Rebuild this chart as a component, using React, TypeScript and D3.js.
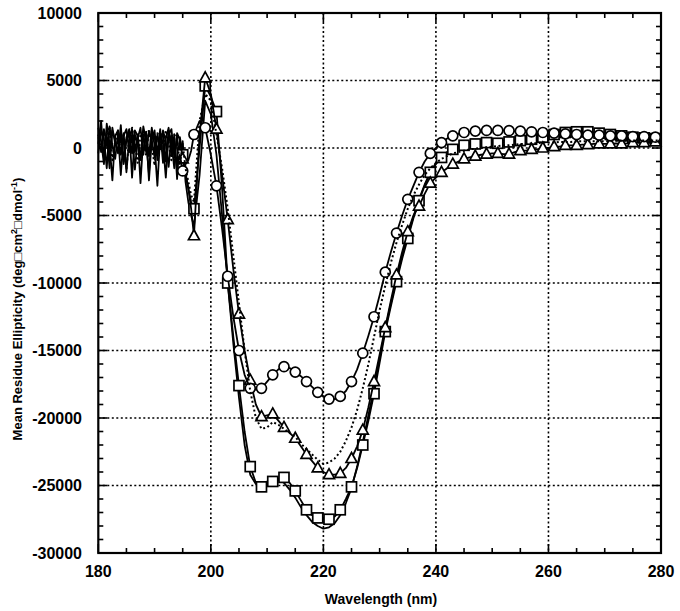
import React from "react";
import * as d3 from "d3";

// Wavelength grids (nm): noisy far-UV part at 0.5 nm, rest at 1 nm
const noiseWavelengths: number[] = d3.range(180, 197, 0.5);
const mainWavelengths: number[] = d3.range(197, 281);

// Noisy region values (180.0 .. 196.5 nm)
const circleNoise = [800, -300, 1400, 200, -600, 1500, 300, -200, 900, -1200, 600, 1100, -400, 1300, 900, -900, 1000, -300, 1200, 600, -700, 1000, -100, 1300, 500, -1400, 900, 200, -1200, -500, -1700, -1200, -900, -200];
const triangleNoise = [1500, 500, -1200, 1800, 300, -2400, 900, 1300, -500, 1100, -1800, 700, 1400, -300, 1000, -2600, 800, 1200, -600, 1500, 200, -2800, 900, 1100, -1000, 1300, 400, -1500, 1100, 600, -800, -2000, -3000, -4500];
const squareNoise = [300, 2000, -800, 1000, -1500, 1300, 600, -400, 1700, -1000, 800, 1400, -2200, 1000, 300, -700, 1600, 500, -1900, 1200, 800, -300, 1400, -1100, 700, 1500, -600, 1000, -2300, 800, -500, -1800, -3000, -4000];
const lowNoise = [-400, 1300, 700, -1500, 1600, 200, -800, 1100, -2000, 900, 1400, -300, 1000, -1600, 700, 1500, -500, 1200, -2400, 600, 1300, -900, 1100, 300, -2200, 1000, 1400, -700, 800, -1200, 500, -2500, -4000, -5000];
const dottedNoise = [1000, -200, 1200, 600, 1600, -900, 500, 1300, -400, 1100, -1600, 900, 1500, 300, -1100, 1000, 700, -600, 1400, 200, -1300, 1100, 800, -500, 1300, 400, -900, 1000, 600, -1200, 300, -1500, -2500, -3500];

// Main region values (197 .. 280 nm)
const circleMain = [
  1000, 2000, 1500, -500, -2800, -6000, -9500, -12500, -15000, -16800,
  -17800, -17900, -17800, -17300, -16800, -16400, -16200, -16300, -16600, -16900,
  -17300, -17700, -18100, -18400, -18600, -18600, -18400, -18000, -17300, -16400,
  -15200, -13900, -12500, -10900, -9200, -7700, -6300, -5000, -3800, -2800,
  -1800, -1000, -400, 0, 400, 700, 900, 1050, 1150, 1200,
  1250, 1280, 1300, 1300, 1300, 1300, 1280, 1250, 1250, 1200,
  1200, 1150, 1150, 1100, 1100, 1050, 1050, 1000, 1000, 1000,
  950, 950, 950, 900, 900, 900, 900, 850, 850, 900,
  850, 850, 800, 800,
];
const triangleMain = [
  -6500, 1000, 5200, 4000, 1400, -2000, -5300, -9000, -12300, -15000,
  -17200, -19000, -19900, -19800, -19700, -20200, -20700, -21100, -21500, -22100,
  -22700, -23200, -23700, -24000, -24200, -24200, -24100, -23700, -23000, -22100,
  -20900, -19200, -17300, -15300, -13300, -11300, -9400, -7700, -6200, -5000,
  -4300, -3400, -2600, -2200, -1800, -1500, -1200, -1000, -800, -700,
  -600, -500, -450, -400, -400, -450, -450, -300, -200, -200,
  -100, -100, 0, 0, 100, 100, 200, 200, 200, 250,
  250, 300, 300, 300, 300, 350, 300, 350, 400, 400,
  400, 450, 450, 500,
];
const squareMain = [
  -4500, 0, 4600, 3800, 2700, -3000, -10000, -14000, -17600, -21000,
  -23600, -24800, -25100, -24900, -24700, -24500, -24400, -24800, -25400, -26100,
  -26800, -27200, -27400, -27500, -27500, -27300, -26800, -26000, -25100, -23700,
  -22000, -20200, -18200, -15900, -13600, -11700, -9900, -8200, -6700, -5200,
  -3900, -2800, -1800, -1200, -700, -400, -100, 100, 200, 300,
  300, 350, 400, 400, 350, 400, 450, 500, 550, 600,
  650, 700, 800, 900, 1000, 1100, 1150, 1200, 1200, 1200,
  1200, 1150, 1100, 1050, 1000, 950, 900, 850, 800, 800,
  750, 750, 700, 700,
];
const lowMain = [
  -5800, -2000, 3500, 2500, -500, -5000, -10000, -14500, -18500, -22000,
  -24200, -24900, -24900, -24700, -24500, -24600, -24800, -25300, -25900, -26600,
  -27200, -27700, -28000, -28200, -28100, -27800, -27200, -26300, -25200, -23600,
  -21800, -19800, -17800, -15600, -13400, -11500, -9700, -8000, -6500, -5100,
  -3800, -2700, -1800, -1100, -600, -300, 0, 200, 300, 400,
  400, 450, 500, 500, 500, 550, 550, 600, 600, 650,
  650, 700, 700, 750, 750, 800, 800, 850, 900, 900,
  900, 900, 900, 850, 850, 850, 800, 800, 800, 750,
  750, 700, 700, 700,
];
const dottedMain = [
  -4000, 2000, 4000, 3500, 1000, -1500, -4500, -8000, -11500, -15000,
  -18000, -20000, -20800, -20700, -20300, -20500, -20800, -21100, -21400, -21900,
  -22300, -22700, -23100, -23400, -23300, -23000, -22500, -21700, -20700, -19400,
  -17800, -16000, -14000, -12000, -10200, -8500, -7000, -5700, -4500, -3500,
  -2700, -2000, -1500, -1100, -800, -600, -400, -300, -200, -100,
  -50, 0, 50, 100, 150, 200, 200, 250, 300, 300,
  350, 350, 400, 400, 400, 450, 450, 450, 500, 500,
  500, 500, 500, 500, 500, 550, 550, 550, 550, 550,
  550, 550, 550, 550,
];

const xTickValues = [180, 200, 220, 240, 260, 280];
const yTickValues = [10000, 5000, 0, -5000, -10000, -15000, -20000, -25000, -30000];

type Marker = "circle" | "square" | "triangle" | "none";
const seriesList: { noise: number[]; main: number[]; marker: Marker; dotted: boolean }[] = [
  { noise: lowNoise, main: lowMain, marker: "none", dotted: false },
  { noise: squareNoise, main: squareMain, marker: "square", dotted: false },
  { noise: triangleNoise, main: triangleMain, marker: "triangle", dotted: false },
  { noise: circleNoise, main: circleMain, marker: "circle", dotted: false },
  { noise: dottedNoise, main: dottedMain, marker: "none", dotted: true },
];

export default function App() {
  const W = 680, H = 611;
  const left = 98.3, right = 661, top = 13, bottom = 553;
  const x = d3.scaleLinear().domain([180, 280]).range([left, right]);
  const y = d3.scaleLinear().domain([-30000, 10000]).range([bottom, top]);

  const line = d3
    .line<[number, number]>()
    .x((d) => x(d[0]))
    .y((d) => y(d[1]));

  const xMinor = d3.range(180, 281, 5);
  const yMinor = d3.range(-30000, 10001, 1000);
  const font = "'Liberation Sans', Arial, Helvetica, sans-serif";
  const allX = noiseWavelengths.concat(mainWavelengths);

  const markerShape = (m: Marker, cx: number, cy: number, key: string) => {
    if (m === "circle")
      return <circle key={key} cx={cx} cy={cy} r={5} fill="#fff" stroke="#000" strokeWidth={1.7} />;
    if (m === "square")
      return <rect key={key} x={cx - 5} y={cy - 5} width={10} height={10} fill="#fff" stroke="#000" strokeWidth={1.7} />;
    if (m === "triangle")
      return (
        <path key={key} d={`M${cx},${cy - 6}L${cx + 5.5},${cy + 4}L${cx - 5.5},${cy + 4}Z`} fill="#fff" stroke="#000" strokeWidth={1.7} />
      );
    return null;
  };

  return (
    <svg width={W} height={H} style={{ position: "absolute", left: 0, top: 0, background: "#fff" }}>
      <rect x={0} y={0} width={W} height={H} fill="#fff" />
      {/* grid */}
      <g stroke="#000" strokeWidth={1.6} strokeDasharray="2,2.5">
        {xTickValues.slice(1, -1).map((t) => (
          <line key={"gx" + t} x1={x(t)} x2={x(t)} y1={top} y2={bottom} />
        ))}
        {yTickValues.slice(1, -1).map((t) => (
          <line key={"gy" + t} x1={left} x2={right} y1={y(t)} y2={y(t)} />
        ))}
      </g>
      {/* ticks */}
      <g stroke="#000" strokeWidth={1.6}>
        {xMinor.map((t) => {
          const len = t % 20 === 0 ? 9 : 5;
          return (
            <g key={"xt" + t}>
              <line x1={x(t)} x2={x(t)} y1={bottom} y2={bottom - len} />
              <line x1={x(t)} x2={x(t)} y1={top} y2={top + len} />
            </g>
          );
        })}
        {yMinor.map((t) => {
          const len = t % 5000 === 0 ? 9 : 5;
          return (
            <g key={"yt" + t}>
              <line x1={left} x2={left + len} y1={y(t)} y2={y(t)} />
              <line x1={right} x2={right - len} y1={y(t)} y2={y(t)} />
            </g>
          );
        })}
      </g>
      {/* data */}
      <g>
        {seriesList.map((s, i) => {
          const vals = s.noise.concat(s.main);
          const pts: [number, number][] = allX.map((w, j) => [w, vals[j]]);
          return (
            <g key={"s" + i}>
              <path
                d={line(pts) || ""}
                fill="none"
                stroke="#000"
                strokeWidth={s.dotted ? 2 : 1.8}
                strokeDasharray={s.dotted ? "2,2.5" : undefined}
                strokeLinejoin="round"
              />
              {s.marker !== "none" &&
                pts
                  .filter((p) => Number.isInteger(p[0]) && p[0] % 2 === 1 && p[0] >= 195)
                  .map((p) => markerShape(s.marker, x(p[0]), y(p[1]), `m${i}-${p[0]}`))}
            </g>
          );
        })}
      </g>
      {/* frame */}
      <rect x={left} y={top} width={right - left} height={bottom - top} fill="none" stroke="#000" strokeWidth={2.2} />
      {/* tick labels */}
      <g fontFamily={font} fontWeight="bold" fontSize={16} fill="#000">
        {yTickValues.map((t) => (
          <text key={"yl" + t} x={82} y={y(t)} dy="0.36em" textAnchor="end">
            {t}
          </text>
        ))}
        {xTickValues.map((t) => (
          <text key={"xl" + t} x={x(t)} y={577} textAnchor="middle">
            {t}
          </text>
        ))}
      </g>
      <text x={381} y={604} textAnchor="middle" fontFamily={font} fontWeight="bold" fontSize={14}>
        Wavelength (nm)
      </text>
      <text
        transform={`translate(22,309) rotate(-90)`}
        textAnchor="middle"
        fontFamily={font}
        fontWeight="bold"
        fontSize={13}
      >
        Mean Residue Ellipticity (deg□cm
        <tspan dy={-5} fontSize={9}>2</tspan>
        <tspan dy={5}>□dmol</tspan>
        <tspan dy={-5} fontSize={9}>-1</tspan>
        <tspan dy={5}>)</tspan>
      </text>
    </svg>
  );
}
